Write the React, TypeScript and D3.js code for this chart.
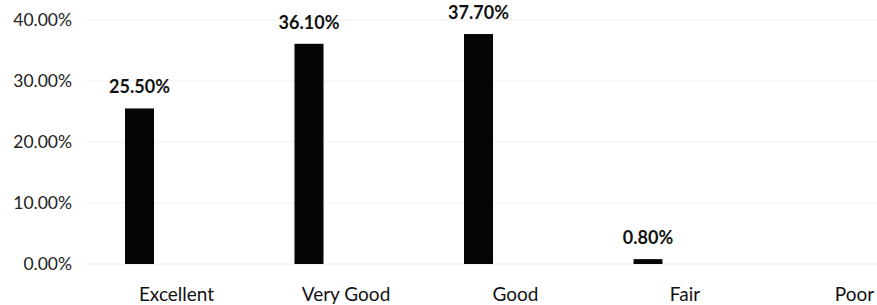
import React, {useEffect, useRef} from 'react';
import * as d3 from 'd3';

// values (percent)
const categories = ["Excellent", "Very Good", "Good", "Fair", "Poor"];
const values = [25.5, 36.1, 37.7, 0.8, null];
const yTicks = [0, 10, 20, 30, 40];

const width = 877;
const height = 305;

const App = () => {
    const ref = useRef<SVGSVGElement>(null);

    useEffect(() => {
        const svg = d3.select(ref.current);
        svg.selectAll("*").remove();

        const x = d3.scalePoint<string>()
            .domain(categories)
            .range([139.5, 817.5]);

        const y = d3.scaleLinear()
            .domain([0, 40])
            .range([264, 20]);

        const barW = 29;
        // the scan has its category labels shifted right of the bars
        const labelShift = 37;

        // faint gridlines
        svg.append("g")
            .selectAll("line")
            .data(yTicks)
            .join("line")
            .attr("x1", 85)
            .attr("x2", width)
            .attr("y1", d => y(d))
            .attr("y2", d => y(d))
            .attr("stroke", "#efefef")
            .attr("stroke-width", 1);

        // y tick labels
        svg.append("g")
            .style("font-family", "Lato, 'Open Sans', sans-serif")
            .style("font-size", "17.5px")
            .attr("fill", "#222")
            .attr("text-anchor", "end")
            .selectAll("text")
            .data(yTicks)
            .join("text")
            .attr("x", 72)
            .attr("y", d => y(d))
            .attr("dy", "0.35em")
            .text(d => d3.format(".2f")(d) + "%");

        const rows = categories.map((c, i) => ({name: c, value: values[i]}));

        // bars
        svg.append("g")
            .selectAll("rect")
            .data(rows.filter(d => d.value != null))
            .join("rect")
            .attr("x", d => x(d.name)! - barW / 2)
            .attr("y", d => y(d.value as number))
            .attr("width", barW)
            .attr("height", d => y(0) - y(d.value as number))
            .attr("fill", "#050505");

        // value labels
        svg.append("g")
            .style("font-family", "Lato, 'Open Sans', sans-serif")
            .style("font-size", "18px")
            .style("font-weight", "bold")
            .attr("fill", "#111")
            .attr("text-anchor", "middle")
            .selectAll("text")
            .data(rows.filter(d => d.value != null))
            .join("text")
            .attr("x", d => x(d.name)!)
            .attr("y", d => y(d.value as number) - 15)
            .text(d => d3.format(".2f")(d.value as number) + "%");

        // category labels
        svg.append("g")
            .style("font-family", "Lato, 'Open Sans', sans-serif")
            .style("font-size", "19px")
            .attr("fill", "#111")
            .attr("text-anchor", "middle")
            .selectAll("text")
            .data(categories)
            .join("text")
            .attr("x", d => x(d)! + labelShift)
            .attr("y", 301)
            .text(d => d);
    }, []);

    return (
        <svg ref={ref} width={width} height={height}
             style={{position: "absolute", left: 0, top: 0, background: "#fff", display: "block"}}/>
    );
};

export default App;
